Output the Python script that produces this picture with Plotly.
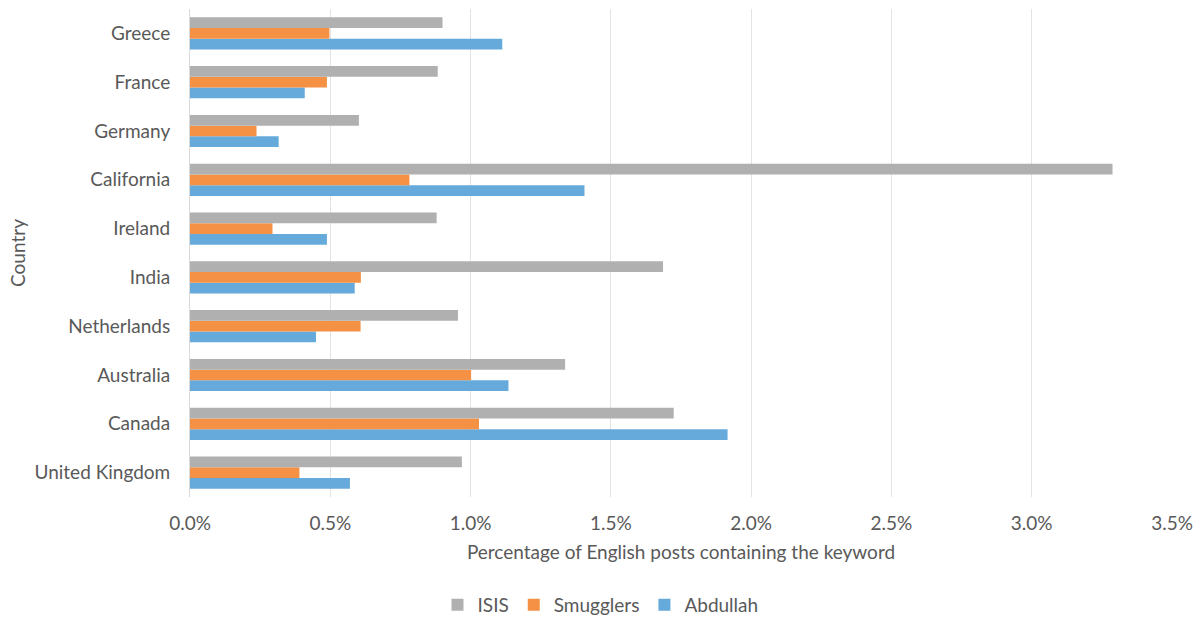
import plotly.graph_objects as go

# Share of English posts mentioning each keyword, by country (percent)
countries = ["United Kingdom", "Canada", "Australia", "Netherlands", "India",
             "Ireland", "California", "Germany", "France", "Greece"]
isis = [0.969, 1.724, 1.337, 0.955, 1.686, 0.879, 3.288, 0.602, 0.883, 0.900]
smugglers = [0.390, 1.030, 1.002, 0.608, 0.609, 0.294, 0.782, 0.237, 0.488, 0.497]
abdullah = [0.570, 1.916, 1.135, 0.449, 0.587, 0.488, 1.406, 0.316, 0.409, 1.113]

x_ticks = [0, 0.5, 1.0, 1.5, 2.0, 2.5, 3.0, 3.5]
x_tick_text = ["0.0%", "0.5%", "1.0%", "1.5%", "2.0%", "2.5%", "3.0%", "3.5%"]

font_family = "Lato, 'Open Sans', sans-serif"
text_color = "#595959"
fs = 19

fig = go.Figure()
# Abdullah first so it sits at the bottom of each group, ISIS on top
fig.add_trace(go.Bar(y=countries, x=abdullah, name="Abdullah", orientation="h",
                     marker=dict(color="#65AADB", line=dict(width=0))))
fig.add_trace(go.Bar(y=countries, x=smugglers, name="Smugglers", orientation="h",
                     marker=dict(color="#F49144", line=dict(width=0))))
fig.add_trace(go.Bar(y=countries, x=isis, name="ISIS", orientation="h",
                     marker=dict(color="#B0B0B0", line=dict(width=0))))

fig.update_layout(
    width=1201, height=617,
    barmode="group", bargap=0.34, bargroupgap=0,
    plot_bgcolor="white", paper_bgcolor="white",
    margin=dict(l=190, r=29, t=9, b=120, autoexpand=False),
    font=dict(family=font_family, color=text_color, size=fs),
    legend=dict(orientation="h", traceorder="reversed",
                x=0.5, xref="container", xanchor="center",
                y=(617 - 605) / 617, yref="container", yanchor="middle",
                font=dict(size=fs, color=text_color),
                itemwidth=30),
    xaxis=dict(range=[0, 3.5], tickvals=x_ticks, ticktext=x_tick_text,
               showgrid=True, gridcolor="#E3E3E3", gridwidth=1,
               zeroline=False, showline=False,
               tickfont=dict(size=fs, color=text_color),
               ticklabelstandoff=13,
               title=dict(text="Percentage of English posts containing the keyword",
                          font=dict(size=fs, color=text_color), standoff=12)),
    yaxis=dict(categoryorder="array", categoryarray=countries,
               showline=True, linecolor="#D9D9D9", linewidth=1,
               showgrid=False, zeroline=False,
               tickfont=dict(size=fs, color=text_color),
               ticklabelstandoff=15,
               title=dict(text="Country", font=dict(size=fs, color=text_color),
                          standoff=3)),
)

fig.write_html("out.html")
